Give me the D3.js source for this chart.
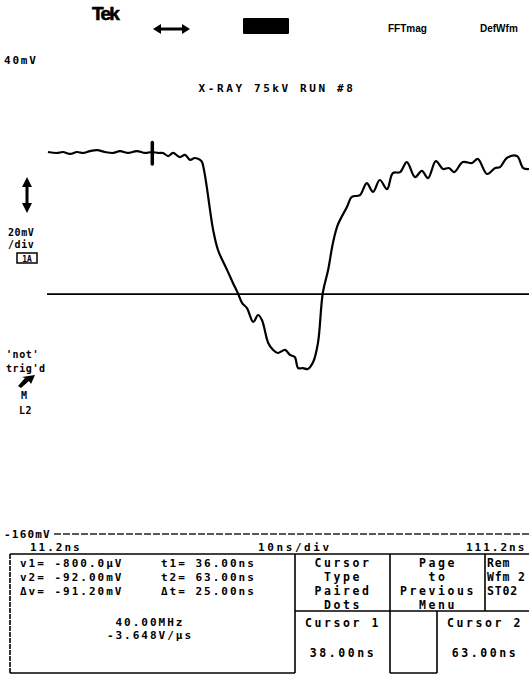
<!DOCTYPE html>
<html lang="en">

<head>
	<meta charset="utf-8">
	<title>X-RAY 75kV RUN #8</title>
	<style>
		body {
			margin: 0;
			background: #fff;
		}

		svg {
			display: block;
		}

		text {
			font-family: "DejaVu Sans Mono", monospace;
			font-weight: bold;
			fill: #000;
		}

		.lbl {
			font-size: 11px;
			letter-spacing: 2px;
		}

		.menu {
			font-size: 11.5px;
			letter-spacing: 2.6px;
		}
	</style>
</head>

<body>
	<svg></svg>

	<script src="https://d3js.org/d3.v7.min.js"></script>
	<script>
		// scope settings
		var xDomain = [11.2, 111.2];   // ns, left and right of screen
		var yDomain = [-160, 40];      // mV, bottom and top of screen
		var xLabels = ["11.2ns", "10ns/div", "111.2ns"];
		var yLabels = ["40mV", "-160mV"];
		var title = "X-RAY 75kV RUN #8";

		// ch1 trace (ns / mV)
		var traceTime = [11.4, 13.3, 14.5, 16.0, 17.4, 18.7, 20.1, 21.6, 23.2, 24.9, 26.3, 28.0, 29.8, 31.5, 32.9, 34.2, 35.2,
			36.3, 37.3, 38.7, 39.8, 40.8, 41.8, 42.9, 43.3, 45.6, 46.6, 48.5, 49.7, 50.7, 51.6, 52.6, 53.9, 54.9, 55.7, 57.0,
			58.0, 59.0, 60.5, 61.5, 62.5, 63.2, 64.2, 65.2, 66.3, 67.3, 68.3, 69.4, 70.4, 71.4, 73.3, 74.3, 76.0, 77.4, 78.7,
			80.1, 81.6, 82.8, 84.3, 85.7, 87.4, 88.8, 90.1, 91.7, 93.2, 94.4, 95.5, 97.3, 99.2, 100.4, 102.3, 104.0, 105.0,
			106.4, 108.5, 109.8, 111.0];
		var traceMv = [1.5, 1.1, 1.5, 0.7, 1.5, 1.1, 1.9, 2.3, 1.5, 1.1, 1.9, 1.1, 1.9, 1.1, 1.5, 1.1, 1.1,
			-0.2, 1.1, -0.6, 0.3, -1.8, -1.0, -1.8, -2.7, -31.1, -39.5, -47.9, -53.3, -57.5, -61.7, -63.8, -69.6, -66.7, -68.8, -78.4,
			-81.3, -82.6, -81.3, -83.4, -84.3, -88.9, -88.9, -89.3, -86.4, -78.4, -57.5, -47.9, -36.6, -29.0, -21.5, -17.3, -16.5, -11.5, -15.2,
			-10.2, -14.0, -7.3, -6.9, -2.7, -9.0, -6.4, -9.4, -2.3, -5.6, -5.2, -6.9, -2.7, -3.1, -1.4, -7.7, -5.2, -4.8,
			-1.0, -0.2, -5.2, -5.6];

		// reference waveform level and trigger marker
		var refLevelMv = -58;
		var triggerTime = 33.0;
		var triggerSpan = [5.5, -3.5];

		// readouts
		var readoutV = ["v1= -800.0\u00b5V", "v2= -92.00mV", "\u0394v= -91.20mV"];
		var readoutT = ["t1= 36.00ns", "t2= 63.00ns", "\u0394t= 25.00ns"];
		var readoutFreq = ["40.00MHz", "-3.648V/\u00b5s"];
		var menuTop = [["Cursor", "Type", "Paired", "Dots"], ["Page", "to", "Previous", "Menu"], ["Rem", "Wfm 2", "ST02"]];
		var menuBottom = [["Cursor 1", "38.00ns"], ["", ""], ["Cursor 2", "63.00ns"]];

		(function() {

			var width = 529,
				height = 675;

			var svg = d3.select("svg")
				.attr("width", width)
				.attr("height", height);

			var x = d3.scaleLinear().domain(xDomain).range([47, 530]);
			var y = d3.scaleLinear().domain(yDomain).range([538, 60]);

			// --- top status bar
			svg.append("text")
				.attr("x", 92).attr("y", 20)
				.style("font-family", "Liberation Sans")
				.style("font-size", "19px")
				.style("letter-spacing", "-1.8px")
				.style("stroke", "#000")
				.style("stroke-width", "0.6px")
				.text("Tek");

			svg.append("path")
				.attr("d", "M153,29 L161,24 L161,27.5 L182,27.5 L182,24 L190,29 L182,34 L182,30.5 L161,30.5 L161,34 Z")
				.attr("fill", "#000");

			svg.append("rect")
				.attr("x", 243).attr("y", 18)
				.attr("width", 46).attr("height", 16)
				.attr("rx", 1)
				.attr("fill", "#000");

			svg.append("text")
				.attr("x", 388).attr("y", 32)
				.style("font-family", "Liberation Sans")
				.style("font-size", "10px")
				.style("letter-spacing", "0px")
				.text("FFTmag");

			svg.append("text")
				.attr("x", 480).attr("y", 32)
				.style("font-family", "Liberation Sans")
				.style("font-size", "10px")
				.style("letter-spacing", "0px")
				.text("DefWfm");

			// --- scale labels
			svg.append("text").attr("class", "lbl")
				.style("letter-spacing", "1.8px")
				.attr("x", 4).attr("y", y(yDomain[1]) + 4)
				.text(yLabels[0]);

			svg.append("text").attr("class", "lbl")
				.style("letter-spacing", "2.6px")
				.attr("x", 277).attr("y", 92)
				.attr("text-anchor", "middle")
				.text(title);

			svg.append("text").attr("class", "lbl")
				.style("letter-spacing", "1.2px")
				.attr("x", 4).attr("y", y(yDomain[0]))
				.text(yLabels[1]);

			svg.append("line")
				.attr("x1", 54).attr("x2", width)
				.attr("y1", y(yDomain[0]) - 4).attr("y2", y(yDomain[0]) - 4)
				.attr("stroke", "#222")
				.attr("stroke-width", 1.3)
				.attr("stroke-dasharray", "7,2");

			// --- left side indicators
			svg.append("path")
				.attr("d", "M27,177 L32,187 L28.5,187 L28.5,203 L32,203 L27,213 L22,203 L25.5,203 L25.5,187 L22,187 Z")
				.attr("fill", "#000");

			var side = [
				["20mV", 8, 236],
				["/div", 8, 248],
				["'not'", 6, 358],
				["trig'd", 6, 372],
				["M", 21, 399],
				["L2", 19, 414]
			];
			svg.append("g").selectAll("text")
				.data(side)
				.enter().append("text")
				.attr("class", "lbl")
				.style("font-size", "10px")
				.style("letter-spacing", "0.6px")
				.attr("x", function(d) { return d[1]; })
				.attr("y", function(d) { return d[2]; })
				.text(function(d) { return d[0]; });

			svg.append("rect")
				.attr("x", 17).attr("y", 253)
				.attr("width", 20).attr("height", 10)
				.attr("fill", "none")
				.attr("stroke", "#000")
				.attr("stroke-width", 1.5);
			svg.append("text")
				.attr("x", 27).attr("y", 261.5)
				.attr("text-anchor", "middle")
				.style("font-size", "8px")
				.text("1A");

			svg.append("path")
				.attr("d", "M18,386 L25,378 L22,377 L35,375 L31,384 L29,381 L21,388 Z")
				.attr("fill", "#000");

			// --- reference waveform
			svg.append("line")
				.attr("x1", x(xDomain[0])).attr("x2", width)
				.attr("y1", y(refLevelMv)).attr("y2", y(refLevelMv))
				.attr("stroke", "#000")
				.attr("stroke-width", 1.8);

			// --- trace
			var points = traceTime.map(function(t, i) {
				return [t, traceMv[i]];
			});

			var line = d3.line()
				.x(function(d) { return x(d[0]); })
				.y(function(d) { return y(d[1]); })
				.curve(d3.curveCatmullRom.alpha(0.5));

			svg.append("path")
				.datum(points)
				.attr("d", line)
				.attr("fill", "none")
				.attr("stroke", "#000")
				.attr("stroke-width", 2.2)
				.attr("stroke-linejoin", "round");

			svg.append("line")
				.attr("x1", x(triggerTime)).attr("x2", x(triggerTime))
				.attr("y1", y(triggerSpan[0])).attr("y2", y(triggerSpan[1]))
				.attr("stroke", "#000")
				.attr("stroke-width", 3.5)
				.attr("stroke-linecap", "round");

			// --- horizontal scale row
			svg.append("text").attr("class", "lbl")
				.attr("x", 30).attr("y", 551)
				.text(xLabels[0]);
			svg.append("text").attr("class", "lbl")
				.attr("x", 258).attr("y", 551)
				.style("letter-spacing", "2.6px")
				.text(xLabels[1]);
			svg.append("text").attr("class", "lbl")
				.attr("x", 466).attr("y", 551)
				.text(xLabels[2]);

			// --- readout table
			var g = svg.append("g")
				.attr("fill", "none")
				.attr("stroke", "#000")
				.attr("stroke-width", 1.6);

			g.append("line").attr("x1", 10).attr("x2", width).attr("y1", 554).attr("y2", 554);
			g.append("line").attr("x1", 10).attr("x2", 10).attr("y1", 554).attr("y2", 673)
				.attr("stroke-dasharray", "5,1");
			g.append("line").attr("x1", 10).attr("x2", 295).attr("y1", 673).attr("y2", 673);
			g.append("line").attr("x1", 295).attr("x2", 295).attr("y1", 554).attr("y2", 673);
			g.append("line").attr("x1", 390).attr("x2", 390).attr("y1", 554).attr("y2", 673);
			g.append("line").attr("x1", 485).attr("x2", 485).attr("y1", 554).attr("y2", 611);
			g.append("line").attr("x1", 295).attr("x2", width).attr("y1", 611).attr("y2", 611);
			g.append("line").attr("x1", 437).attr("x2", 437).attr("y1", 611).attr("y2", 673);
			g.append("line").attr("x1", 390).attr("x2", 437).attr("y1", 673).attr("y2", 673);

			var rowY = [567, 581, 595];

			svg.append("g").selectAll("text")
				.data(readoutV)
				.enter().append("text")
				.attr("class", "lbl")
				.attr("x", 20)
				.attr("y", function(d, i) { return rowY[i]; })
				.text(function(d) { return d; });

			svg.append("g").selectAll("text")
				.data(readoutT)
				.enter().append("text")
				.attr("class", "lbl")
				.attr("x", 161)
				.attr("y", function(d, i) { return rowY[i]; })
				.text(function(d) { return d; });

			svg.append("g").selectAll("text")
				.data(readoutFreq)
				.enter().append("text")
				.attr("class", "lbl")
				.attr("x", 150)
				.attr("y", function(d, i) { return 626 + i * 13; })
				.attr("text-anchor", "middle")
				.text(function(d) { return d; });

			var colCx = [343, 438, 510];
			menuTop.forEach(function(col, c) {
				svg.append("g").selectAll("text")
					.data(col)
					.enter().append("text")
					.attr("class", "menu")
					.style("letter-spacing", c == 2 ? "0.8px" : null)
					.attr("x", c == 2 ? 487 : colCx[c])
					.attr("text-anchor", c == 2 ? "start" : "middle")
					.attr("y", function(d, i) { return 567 + i * 14; })
					.text(function(d) { return d; });
			});

			var lowCx = [343, 413, 485];
			menuBottom.forEach(function(col, c) {
				svg.append("text").attr("class", "menu")
					.attr("x", lowCx[c]).attr("y", 627)
					.attr("text-anchor", "middle")
					.text(col[0]);
				svg.append("text").attr("class", "menu")
					.attr("x", lowCx[c]).attr("y", 657)
					.attr("text-anchor", "middle")
					.text(col[1]);
			});

		})();
	</script>
</body>

</html>
